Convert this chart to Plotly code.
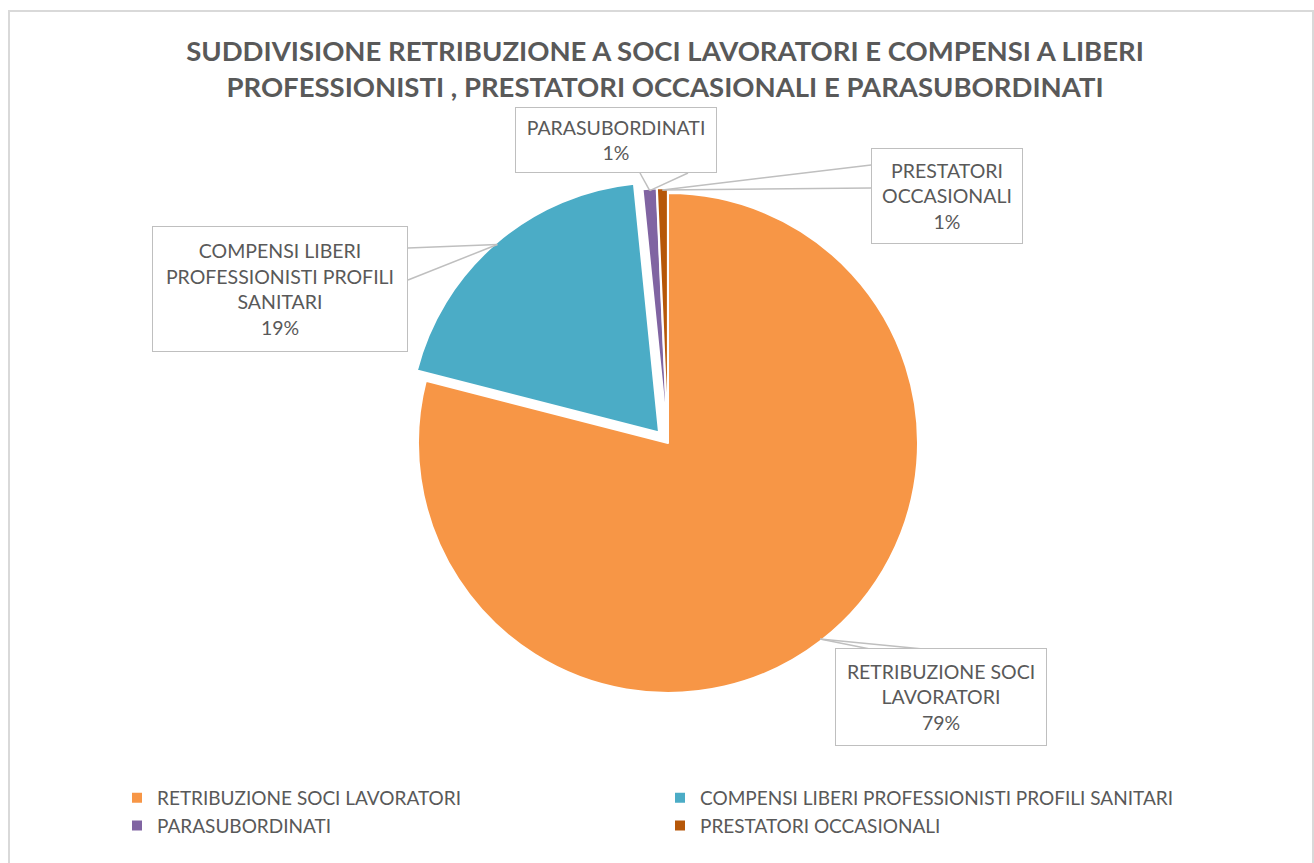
import math
import plotly.graph_objects as go

# ---------------- data ----------------
categories = [
    "RETRIBUZIONE SOCI LAVORATORI",
    "COMPENSI LIBERI PROFESSIONISTI PROFILI SANITARI",
    "PARASUBORDINATI",
    "PRESTATORI OCCASIONALI",
]
label_lines = [
    "RETRIBUZIONE SOCI<br>LAVORATORI",
    "COMPENSI LIBERI<br>PROFESSIONISTI PROFILI<br>SANITARI",
    "PARASUBORDINATI",
    "PRESTATORI<br>OCCASIONALI",
]
values = [79.0, 19.4, 0.9, 0.7]
colors = ["#F79646", "#4BACC6", "#8064A2", "#B65708"]
pulls = [0.0, 0.055, 0.02, 0.02]

W, H = 1314, 863
TXT = "#595959"
FONT = "Lato"

# pie geometry (pixels)
CX, CY, R = 668, 443, 250
half = R * (1 + max(pulls))
dom_x = [(CX - half) / W, (CX + half) / W]
dom_y = [(H - CY - half) / H, (H - CY + half) / H]

fig = go.Figure()
fig.add_trace(go.Pie(
    labels=categories,
    values=values,
    sort=False,
    direction="clockwise",
    rotation=0,
    pull=pulls,
    marker=dict(colors=colors, line=dict(color="white", width=2)),
    textinfo="none",
    hoverinfo="label+percent",
    domain=dict(x=dom_x, y=dom_y),
    showlegend=True,
))

def px(x):
    return x / W

def py(y):
    return 1 - y / H

# callout boxes (layout positions in px) and wedge base points
boxes = [
    dict(box=(835, 648, 1047, 746), base=[(870, 649), (923, 649)]),
    dict(box=(152, 226, 408, 352), base=[(408, 248), (408, 280)]),
    dict(box=(515, 107, 717, 173), base=[(640, 173), (688, 173)]),
    dict(box=(871, 148, 1023, 244), base=[(871, 165), (871, 188)]),
]

total = sum(values)
cum = 0.0
annotations = []
shapes = []
for i, v in enumerate(values):
    mid = (cum + v / 2) / total
    cum += v
    theta = 2 * math.pi * mid
    rr = R * (1 + pulls[i]) - 2
    tx = CX + rr * math.sin(theta)
    ty = CY - rr * math.cos(theta)
    pct = round(100 * v / total)
    b = boxes[i]
    x0, y0, x1, y1 = b["box"]
    for (bx, by) in b["base"]:
        shapes.append(dict(type="line", xref="paper", yref="paper",
                           x0=px(bx), y0=py(by), x1=px(tx), y1=py(ty),
                           line=dict(color="#BFBFBF", width=1.5)))
    annotations.append(dict(
        xref="paper", yref="paper", x=px(x0), y=py(y0),
        xanchor="left", yanchor="top",
        width=x1 - x0 - 2, height=y1 - y0 - 2,
        text=f"{label_lines[i]}<br>{pct}%",
        showarrow=False, align="center", valign="middle",
        font=dict(family=FONT, size=19.5, color=TXT),
        bgcolor="white", bordercolor="#BFBFBF", borderwidth=1, borderpad=0,
    ))

# chart area border
shapes.append(dict(type="rect", xref="paper", yref="paper",
                   x0=px(9), y0=py(875), x1=px(1313), y1=py(11),
                   line=dict(color="#D9D9D9", width=2), layer="below"))

fig.update_layout(
    width=W, height=H,
    margin=dict(l=0, r=0, t=0, b=0),
    paper_bgcolor="white", plot_bgcolor="white",
    title=dict(
        text="<b>SUDDIVISIONE RETRIBUZIONE A SOCI LAVORATORI E COMPENSI A LIBERI<br>PROFESSIONISTI , PRESTATORI OCCASIONALI E PARASUBORDINATI</b>",
        x=665 / W, xanchor="center", y=1 - 61 / H, yanchor="top",
        font=dict(family=FONT, size=27.5, color=TXT),
    ),
    legend=dict(
        orientation="h", x=px(117), y=py(779), xanchor="left", yanchor="top",
        entrywidth=498, entrywidthmode="pixels",
        font=dict(family=FONT, size=19, color=TXT),
        bgcolor="rgba(0,0,0,0)", traceorder="normal",
    ),
    annotations=annotations,
    shapes=shapes,
)

fig.write_html(
    "out.html",
    config={"displayModeBar": False},
    post_script="document.body.style.margin='0px';document.body.style.overflow='hidden';",
)
